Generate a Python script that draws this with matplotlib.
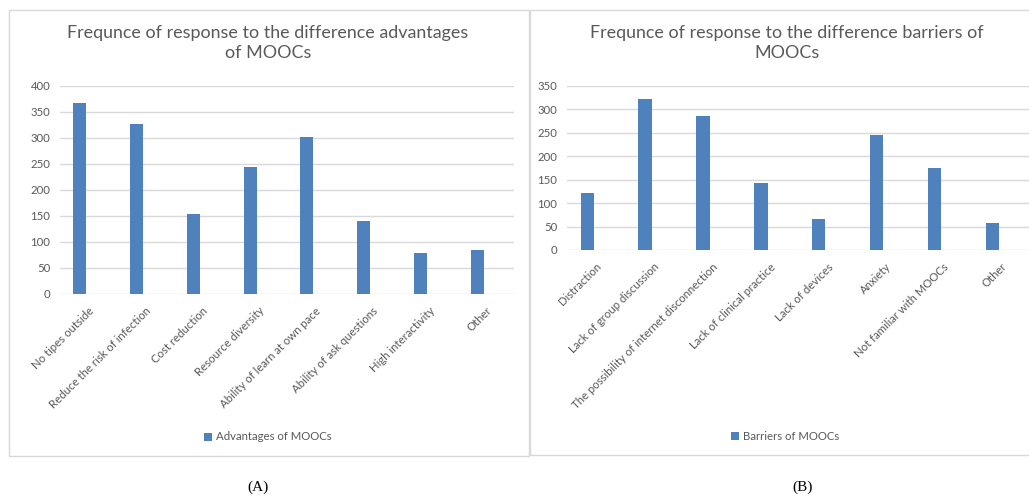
import matplotlib.pyplot as plt
from matplotlib.patches import Rectangle
import numpy as np

adv_labels = ['No tipes outside', 'Reduce the risk of infection', 'Cost reduction',
              'Resource diversity', 'Ability of learn at own pace',
              'Ability of ask questions', 'High interactivity', 'Other']
adv_values = [367, 326, 153, 245, 301, 140, 78, 84]

bar_labels = ['Distraction', 'Lack of group discussion',
              'The possibility of internet disconnection', 'Lack of clinical practice',
              'Lack of devices', 'Anxiety', 'Not familiar with MOOCs', 'Other']
bar_values = [122, 323, 286, 143, 66, 246, 175, 57]

W, H = 1029, 497
blue = '#4F81BD'
grey = '#595959'
grid = '#D9D9D9'
plt.rcParams['font.family'] = ['Lato', 'DejaVu Sans']

fig = plt.figure(figsize=(W / 100, H / 100), dpi=100)

# chart borders (pixel coords -> figure fraction)
def box(x0, y0, x1, y1):
    fig.patches.append(Rectangle((x0 / W, 1 - y1 / H), (x1 - x0) / W, (y1 - y0) / H,
                                 transform=fig.transFigure, fill=False,
                                 edgecolor=grid, linewidth=1))

box(9, 10, 529, 456)
box(530, 10, 1035, 455)


def panel(rect, labels, values, ymax, legend, legend_xy):
    x0, y0, x1, y1 = rect
    ax = fig.add_axes([x0 / W, 1 - y1 / H, (x1 - x0) / W, (y1 - y0) / H])
    pos = np.arange(len(values))
    ax.bar(pos - 0.15, values, width=0.23, color=blue, label=legend, zorder=3)
    ax.set_xlim(-0.5, len(values) - 0.5)
    ax.set_ylim(0, ymax)
    ax.set_yticks(np.arange(0, ymax + 1, 50))
    ax.yaxis.grid(True, color=grid, linewidth=1, zorder=0)
    for s in ax.spines.values():
        s.set_visible(False)
    ax.tick_params(axis='both', length=0, colors=grey, labelsize=8.2)
    ax.tick_params(axis='y', pad=7)
    ax.set_xticks(pos)
    ax.set_xticklabels(labels, rotation=45, ha='right', rotation_mode='anchor')
    ax.tick_params(axis='x', pad=8)
    ax.legend(loc='center', bbox_to_anchor=(legend_xy[0] / W, 1 - legend_xy[1] / H),
              bbox_transform=fig.transFigure,
              frameon=False, fontsize=8.2, labelcolor=grey, handlelength=0.7,
              handleheight=0.7, handletextpad=0.4)
    return ax


panel((60, 86, 514, 294), adv_labels, adv_values, 400,
      'Advantages of MOOCs', (268, 437))
panel((567, 86, 1030, 250), bar_labels, bar_values, 350,
      'Barriers of MOOCs', (785, 436))

fig.text(268 / W, 1 - 43 / H, 'Frequnce of response to the difference advantages\nof MOOCs',
         ha='center', va='center', fontsize=12.9, color=grey, linespacing=1.25)
fig.text(787 / W, 1 - 43 / H, 'Frequnce of response to the difference barriers of\nMOOCs',
         ha='center', va='center', fontsize=12.9, color=grey, linespacing=1.25)

fig.text(258 / W, 1 - 487 / H, '(A)', ha='center', va='center', fontsize=11,
         family='Liberation Serif', color='black')
fig.text(803 / W, 1 - 487 / H, '(B)', ha='center', va='center', fontsize=11,
         family='Liberation Serif', color='black')

plt.savefig('out.png', dpi=100)
